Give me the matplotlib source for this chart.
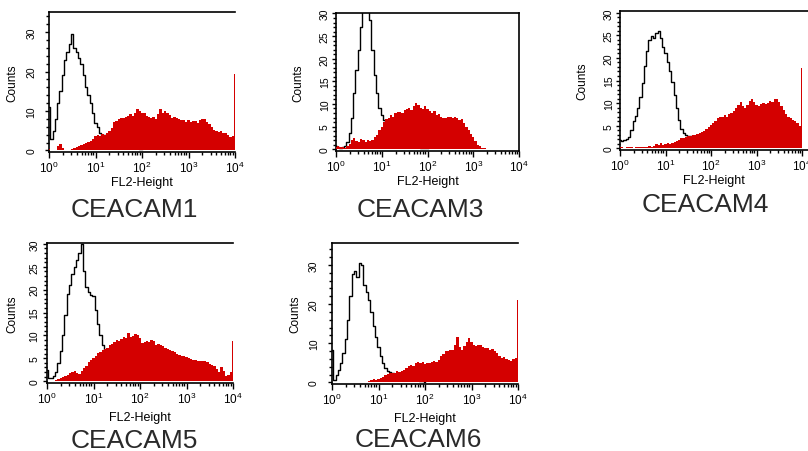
import numpy as np
import matplotlib
matplotlib.use("Agg")
import matplotlib.pyplot as plt
from matplotlib.ticker import FixedLocator, LogLocator, NullFormatter, MultipleLocator

plt.rcParams['font.family'] = ['Liberation Sans', 'DejaVu Sans']
plt.rcParams['mathtext.default'] = 'regular'

# ---------------- data ----------------
names = ["CEACAM1", "CEACAM3", "CEACAM4", "CEACAM5", "CEACAM6"]
xtick_labels = ["$10^{0}$", "$10^{1}$", "$10^{2}$", "$10^{3}$", "$10^{4}$"]
axis_xlabel = "FL2-Height"
axis_ylabel = "Counts"

# control (isotype) histograms, log10 channel 0.00 .. 2.00 step 0.05 (41 values)
ctrl_1 = [11.0, 3.0, 5.0, 8.0, 12.0, 15.0, 19.0, 23.0, 25.0, 27.0,
          29.5, 26.0, 25.0, 23.5, 22.0, 19.0, 16.0, 14.0, 12.0, 9.5,
          7.0, 6.0, 4.5, 4.0, 3.8, 3.5, 3.0, 2.8, 2.5, 2.2,
          2.0, 1.8, 1.5, 1.3, 1.1, 1.0, 0.8, 0.7, 0.5, 0.4,
          0.3]
ctrl_3 = [0.8, 0.5, 0.3, 0.5, 0.8, 1.5, 3.5, 7.0, 12.5, 17.5,
          22.0, 27.0, 31.0, 32.5, 32.0, 28.5, 22.0, 16.5, 12.5, 9.0,
          7.5, 6.5, 5.5, 4.5, 3.5, 3.0, 2.5, 2.0, 1.7, 1.4,
          1.2, 1.0, 0.8, 0.7, 0.6, 0.5, 0.4, 0.3, 0.3, 0.2,
          0.2]
ctrl_4 = [1.8, 1.5, 1.8, 2.0, 2.5, 4.0, 6.0, 7.2, 9.0, 11.4,
          14.5, 18.3, 21.5, 24.0, 24.8, 24.5, 25.6, 26.0, 24.5, 22.5,
          21.0, 19.2, 17.0, 14.6, 11.8, 8.8, 6.3, 4.2, 3.3, 2.9,
          2.8, 2.6, 2.4, 2.2, 2.0, 1.8, 1.6, 1.4, 1.2, 1.0,
          0.8]
ctrl_5 = [2.5, 0.8, 0.7, 1.2, 2.0, 4.0, 6.5, 10.0, 14.5, 19.0,
          21.0, 23.5, 25.0, 26.5, 28.0, 30.0, 24.0, 20.5, 19.5, 18.8,
          18.6, 15.5, 12.6, 10.0, 7.8, 6.5, 5.5, 4.8, 4.0, 3.5,
          3.0, 2.6, 2.2, 1.9, 1.6, 1.3, 1.1, 0.9, 0.7, 0.5,
          0.4]
ctrl_6 = [8.3, 0.7, 1.8, 3.2, 4.9, 7.5, 11.0, 16.0, 22.0, 27.8,
          28.5, 27.0, 30.5, 30.0, 25.0, 23.0, 21.0, 18.0, 14.5, 11.5,
          9.0, 6.8, 4.9, 3.8, 2.9, 2.6, 2.3, 2.1, 2.0, 1.8,
          1.6, 1.4, 1.2, 1.0, 0.9, 0.8, 0.6, 0.5, 0.4, 0.3,
          0.2]

# stained histograms, log10 channel 0.00 .. 4.00 step 0.05 (81 values)
stain_1 = [0.3, 0.0, 0.0, 0.2, 1.0, 1.6, 0.5, 0.0, 0.0, 0.2,
           0.3, 0.5, 0.8, 1.2, 1.5, 1.6, 1.8, 2.2, 2.4, 2.8,
           3.6, 4.0, 3.7, 4.2, 4.0, 4.5, 5.0, 5.8, 7.2, 7.5,
           7.9, 8.3, 8.1, 8.6, 8.7, 9.2, 8.8, 9.6, 10.4, 10.0,
           9.4, 9.6, 8.8, 8.4, 8.3, 8.5, 8.0, 9.2, 10.4, 9.6,
           10.1, 9.5, 9.0, 8.3, 8.6, 8.1, 7.9, 7.8, 7.6, 7.3,
           7.6, 7.2, 7.5, 7.4, 7.0, 7.8, 8.0, 7.9, 7.2, 6.6,
           6.0, 5.2, 4.9, 4.6, 4.8, 4.4, 4.5, 3.8, 3.3, 3.7,
           19.3]
stain_3 = [0.5, 0.8, 0.4, 0.5, 0.3, 0.6, 1.2, 2.0, 2.4, 1.8,
           1.5, 2.3, 2.0, 1.6, 2.1, 1.8, 2.0, 2.6, 3.1, 4.2,
           5.0, 6.1, 6.6, 7.0, 7.5, 7.2, 8.0, 8.3, 8.3, 8.0,
           8.6, 8.9, 9.0, 8.7, 9.6, 10.1, 9.8, 9.2, 8.9, 9.5,
           8.9, 8.5, 8.0, 8.4, 7.5, 7.8, 7.2, 7.0, 6.8, 7.2,
           7.1, 6.8, 7.1, 6.9, 6.5, 6.6, 5.8, 5.0, 4.2, 3.4,
           2.7, 1.8, 1.0, 0.6, 0.3, 0.2, 0.0, 0.0, 0.0, 0.0,
           0.0, 0.0, 0.0, 0.0, 0.0, 0.0, 0.0, 0.0, 0.0, 0.0,
           0.0]
stain_4 = [0.3, 0.2, 0.1, 0.2, 0.3, 0.2, 0.1, 0.2, 0.3, 0.2,
           0.3, 0.2, 0.3, 0.4, 0.3, 0.5, 0.9, 0.6, 1.1, 0.8,
           1.0, 1.2, 1.0, 1.1, 1.4, 1.6, 1.9, 2.2, 2.3, 2.4,
           2.6, 2.8, 2.9, 3.0, 3.2, 3.3, 3.5, 3.9, 4.3, 4.8,
           5.2, 5.5, 6.0, 6.6, 6.9, 7.0, 7.3, 7.0, 7.6, 7.8,
           8.3, 8.9, 9.5, 10.2, 9.4, 9.0, 9.6, 10.5, 11.0, 10.2,
           9.6, 9.4, 9.8, 10.1, 9.7, 10.0, 10.4, 10.2, 10.9, 11.0,
           10.3, 9.4, 8.5, 7.6, 7.0, 6.6, 6.3, 6.0, 5.6, 5.0,
           17.7]
stain_5 = [0.0, 0.0, 0.0, 0.1, 0.2, 0.4, 0.7, 1.0, 1.2, 1.4,
           1.7, 2.1, 2.2, 1.8, 1.5, 2.2, 2.8, 3.3, 4.1, 4.7,
           5.1, 5.6, 6.1, 6.4, 6.8, 7.0, 7.3, 7.8, 8.2, 8.6,
           9.0, 8.7, 9.3, 9.7, 9.4, 10.5, 9.6, 9.9, 10.3, 10.2,
           9.4, 8.3, 8.6, 8.8, 8.5, 9.0, 8.7, 8.0, 8.2, 7.9,
           7.6, 7.2, 7.0, 6.8, 6.5, 6.3, 6.0, 5.8, 5.5, 5.4,
           5.3, 5.0, 4.8, 4.7, 4.6, 4.5, 4.4, 4.3, 4.3, 4.1,
           3.8, 3.6, 3.3, 2.6, 2.0, 3.0, 2.2, 1.1, 1.4, 1.9,
           8.7]
stain_6 = [0.2, 0.0, 0.0, 0.0, 0.0, 0.0, 0.0, 0.0, 0.0, 0.0,
           0.0, 0.0, 0.0, 0.0, 0.1, 0.2, 0.3, 0.5, 1.0, 0.6,
           0.8, 1.2, 1.5, 1.8, 2.1, 2.4, 2.3, 2.5, 2.8, 2.7,
           3.0, 3.2, 3.7, 4.3, 4.5, 4.2, 5.0, 5.3, 4.9, 5.1,
           4.8, 5.0, 4.9, 5.2, 5.6, 5.3, 5.8, 6.7, 7.2, 7.9,
           8.0, 8.2, 8.3, 9.5, 11.7, 9.0, 8.3, 9.2, 10.4, 11.3,
           10.2, 9.6, 9.2, 9.5, 9.6, 9.0, 8.9, 8.7, 8.3, 8.5,
           7.9, 7.4, 6.8, 6.2, 6.5, 6.0, 5.8, 5.5, 5.9, 6.2,
           21.0]

controls = [ctrl_1, ctrl_3, ctrl_4, ctrl_5, ctrl_6]
stains = [stain_1, stain_3, stain_4, stain_5, stain_6]

# ---------------- layout (pixels) ----------------
W, H = 808, 452
RED = '#d40000'
# left, right, top, bottom, ymax, ymajor, yminor, full box, xmax exponent
layout = [
    (49, 235, 13, 153, 35.1, 10, 2, False, 4.0),
    (336, 519, 14, 152, 30.1, 5, 1, True, 4.0),
    (620, 808, 12, 151, 30.4, 5, 1, False, 4.13),
    (47, 233, 244, 384, 30.2, 5, 1, False, 4.0),
    (332, 518, 244, 385, 35.6, 10, 2, False, 4.0),
]
ytick_pad = [6.0, 1.5, 1.5, 2.5, 6.5]
ylabel_dist = [31, 32, 32, 29, 31]
xlabel_pad = [1, 1, 1, 4, 4]
title_pos = [(134, 210), (420, 210), (705, 205), (134, 441), (418, 440)]

fig = plt.figure(figsize=(W / 100, H / 100), dpi=100)

for i in range(5):
    l, r, t, b, ymax, ymaj, ymin_step, box, xmaxe = layout[i]
    ax = fig.add_axes([l / W, 1 - b / H, (r - l) / W, (b - t) / H])
    ctrl = np.asarray(controls[i])
    st = np.asarray(stains[i])
    xc = 10 ** np.linspace(0, 2.0, len(ctrl))
    xs = 10 ** np.linspace(0, 4.0, len(st))
    ax.plot(xc, ctrl, color='black', lw=1.0, drawstyle='steps-mid', zorder=2)
    ax.fill_between(xs, 0, st, step='mid', color=RED, lw=0, zorder=3)
    ax.set_xscale('log')
    ax.set_xlim(1, 10 ** xmaxe)
    ax.set_ylim(-0.4, ymax)

    ax.xaxis.set_major_locator(FixedLocator([1, 10, 100, 1000, 10000]))
    ax.set_xticklabels(xtick_labels)
    ax.xaxis.set_minor_locator(LogLocator(base=10, subs=np.arange(2, 10)))
    ax.xaxis.set_minor_formatter(NullFormatter())
    ax.yaxis.set_major_locator(MultipleLocator(ymaj))
    ax.yaxis.set_minor_locator(MultipleLocator(ymin_step))

    ax.tick_params(axis='x', which='major', direction='out', length=4, width=1,
                   labelsize=8.5, pad=1.5)
    ax.tick_params(axis='x', which='minor', direction='out', length=2.5, width=1)
    ax.tick_params(axis='y', which='major', direction='out', length=3, width=1,
                   labelsize=7.5, pad=ytick_pad[i], labelrotation=90)
    ax.tick_params(axis='y', which='minor', direction='out', length=2, width=1)
    for lab in ax.get_yticklabels():
        lab.set_va('center')

    for s in ['left', 'top', 'bottom', 'right']:
        ax.spines[s].set_linewidth(1.2)
        ax.spines[s].set_color('black')
    ax.spines['right'].set_visible(box)

    ax.set_xlabel(axis_xlabel, fontsize=9, labelpad=xlabel_pad[i])
    ax.set_ylabel(axis_ylabel, fontsize=8.5)
    ax.yaxis.set_label_coords(-ylabel_dist[i] / (r - l), 0.5)

    tx, ty = title_pos[i]
    fig.text(tx / W, 1 - ty / H, names[i], fontsize=19, color='#2a2a2a',
             ha='center', va='center')

fig.savefig('out.png', dpi=100)
